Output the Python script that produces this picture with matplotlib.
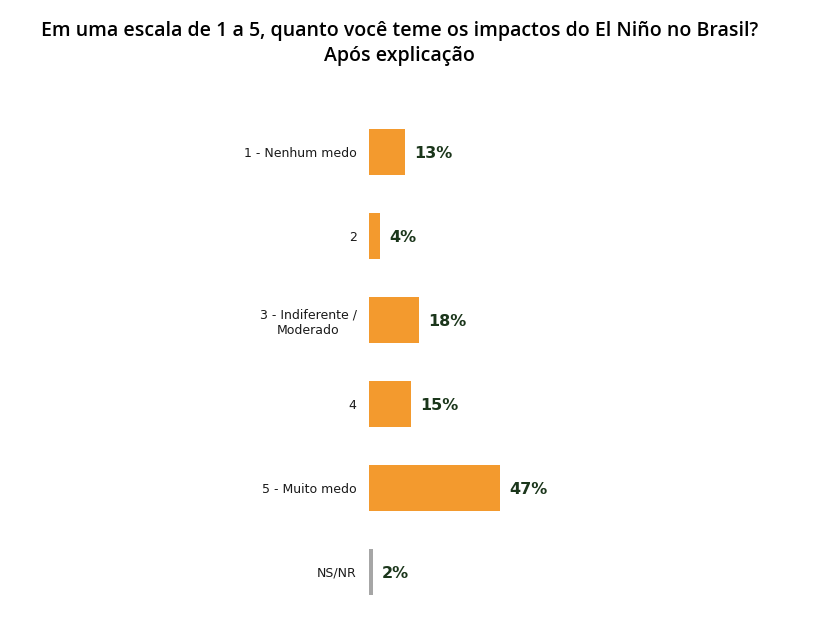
import matplotlib.pyplot as plt

categorias = ['1 - Nenhum medo', '2', '3 - Indiferente /\nModerado', '4', '5 - Muito medo', 'NS/NR']
valores = [13, 4, 18, 15, 47, 2]
cores = ['#F39A2E', '#F39A2E', '#F39A2E', '#F39A2E', '#F39A2E', '#A6A6A6']
rotulos = ['13%', '4%', '18%', '15%', '47%', '2%']

fig = plt.figure(figsize=(8.16, 6.37), dpi=100)
ax = fig.add_axes([369 / 816, 23 / 637, 400 / 816, 504 / 637])

pos = list(range(len(categorias)))
larguras = [v if v > 2 else 1.5 for v in valores]  # NS/NR aparece como um traço fino
ax.barh(pos, larguras, height=0.55, color=cores)

for p, v, r in zip(pos, larguras, rotulos):
    ax.text(v + 3.2, p + 0.02, r, va='center', ha='left', fontsize=11.5, fontweight='bold',
            color='#1B361B')

ax.set_xlim(0, 400 / 2.79)
ax.set_ylim(5.5, -0.5)
ax.set_yticks(pos)
ax.set_yticklabels(categorias, fontsize=9, color='#1a1a1a', linespacing=1.3,
                   multialignment='center')
ax.tick_params(axis='y', length=0, pad=9)
ax.set_xticks([])
for s in ax.spines.values():
    s.set_visible(False)

fig.text(0.49, 0.932, 'Em uma escala de 1 a 5, quanto você teme os impactos do El Niño no Brasil?\nApós explicação',
         ha='center', va='center', fontsize=14, fontfamily='Open Sans', fontweight='semibold',
         linespacing=1.3)

fig.savefig('out.png', dpi=100)
